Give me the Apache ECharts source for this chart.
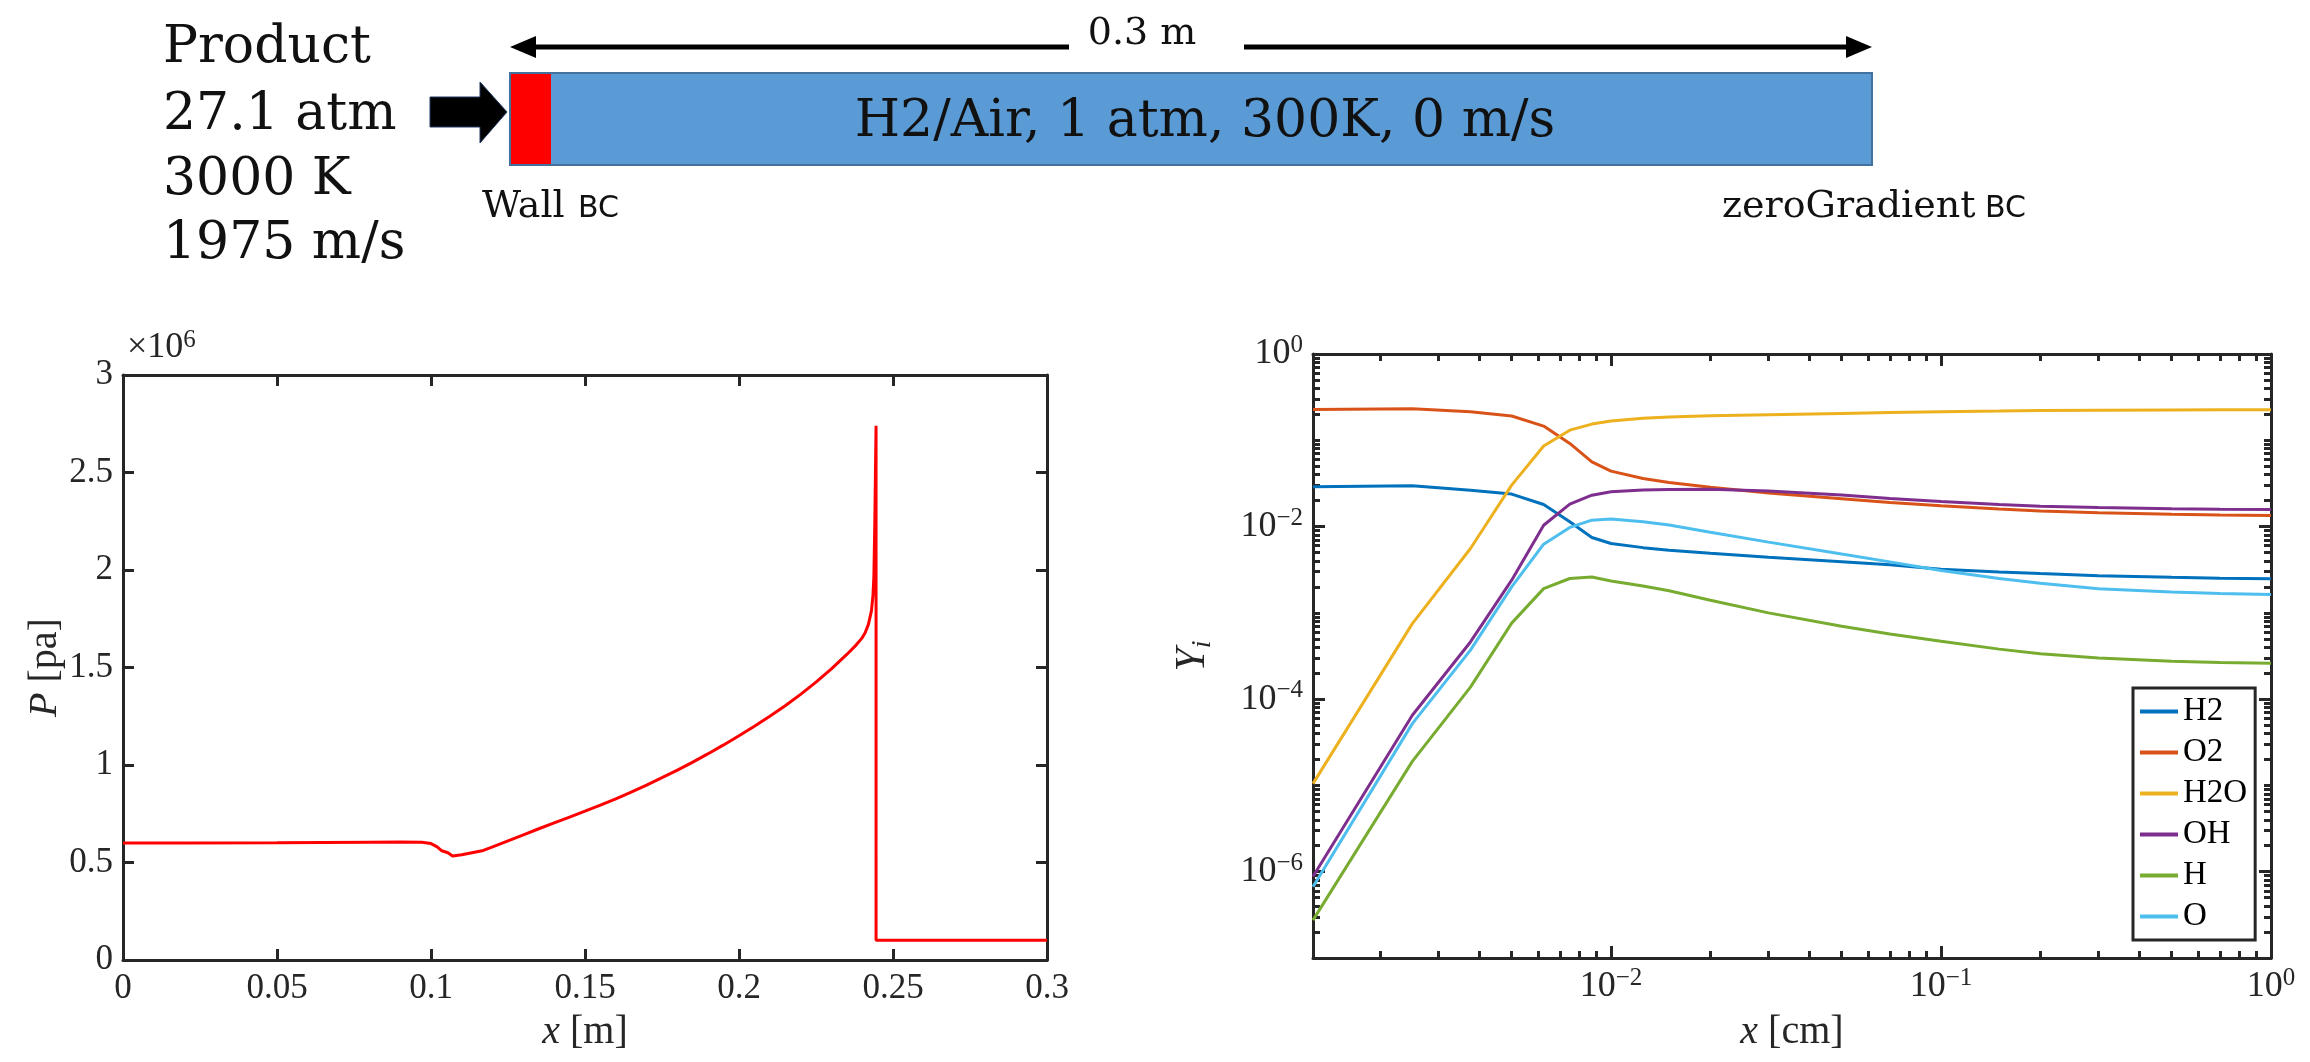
<!DOCTYPE html>
<html>
<head>
<meta charset="utf-8">
<script src="https://cdn.jsdelivr.net/npm/echarts@6/dist/echarts.min.js"></script>
<style>
html,body{margin:0;padding:0;background:#ffffff;}
#chart{width:2310px;height:1062px;}
</style>
</head>
<body>
<div id="chart"></div>
<script>
// ---------------- Left panel: pressure along the tube ----------------
const pressureX = [0, 0.02, 0.05, 0.08, 0.09, 0.097, 0.1, 0.102, 0.1035, 0.104, 0.1055, 0.106, 0.107, 0.11, 0.117,
  0.12, 0.125, 0.13, 0.135, 0.14, 0.145, 0.15, 0.155, 0.16, 0.165, 0.17, 0.175, 0.18, 0.185, 0.19, 0.195, 0.2, 0.205, 0.21, 0.215,
  0.22, 0.225, 0.23, 0.235, 0.238, 0.24, 0.241, 0.242, 0.243, 0.2435, 0.2438, 0.2441, 0.2443, 0.2445, 0.2445, 0.3];
const pressurePa = [6.0e5, 6.0e5, 6.01e5, 6.04e5, 6.05e5, 6.04e5, 5.97e5, 5.8e5, 5.6e5, 5.5e5, 5.5e5, 5.45e5, 5.33e5, 5.4e5, 5.62e5,
  5.8e5, 6.11e5, 6.42e5, 6.73e5, 7.03e5, 7.33e5, 7.63e5, 7.94e5, 8.26e5, 8.61e5, 8.97e5, 9.35e5, 9.74e5, 1.015e6, 1.058e6, 1.103e6, 1.15e6, 1.199e6, 1.25e6, 1.304e6,
  1.362e6, 1.425e6, 1.493e6, 1.567e6, 1.615e6, 1.652e6, 1.68e6, 1.72e6, 1.79e6, 1.87e6, 1.97e6, 2.25e6, 2.5e6, 2.74e6, 1.01325e5, 1.01325e5];

// ---------------- Right panel: species mass fractions ----------------
const speciesX = [0.00125, 0.0025, 0.00375, 0.005, 0.00625, 0.0075, 0.00875, 0.01, 0.0125, 0.015, 0.02, 0.03, 0.05, 0.07, 0.1, 0.15, 0.2, 0.3, 0.5, 0.7, 1.0];
const yH2  = [0.0289, 0.0297, 0.0264, 0.0238, 0.0180, 0.01135, 0.00747, 0.00636, 0.0057, 0.0053, 0.0049, 0.0044, 0.0039, 0.0036, 0.0032, 0.00298, 0.00285, 0.0027, 0.00258, 0.00252, 0.00248];
const yO2  = [0.228, 0.232, 0.214, 0.191, 0.146, 0.092, 0.0563, 0.0439, 0.036, 0.0325, 0.0285, 0.0245, 0.021, 0.019, 0.0174, 0.016, 0.0152, 0.0145, 0.0139, 0.0136, 0.0134];
const yH2O = [1.05e-5, 7.5e-4, 5.57e-3, 0.0302, 0.0857, 0.131, 0.154, 0.167, 0.180, 0.186, 0.192, 0.198, 0.205, 0.210, 0.214, 0.218, 0.221, 0.223, 0.225, 0.226, 0.226];
const yOH  = [8.8e-7, 6.5e-5, 4.6e-4, 2.39e-3, 0.01037, 0.0182, 0.0231, 0.0253, 0.0265, 0.0269, 0.027, 0.0258, 0.0232, 0.0212, 0.0195, 0.018, 0.0172, 0.0166, 0.0161, 0.0159, 0.0158];
const yH   = [2.75e-7, 1.9e-5, 1.38e-4, 7.6e-4, 1.91e-3, 2.5e-3, 2.6e-3, 2.34e-3, 2.05e-3, 1.8e-3, 1.4e-3, 1.0e-3, 7.0e-4, 5.7e-4, 4.7e-4, 3.8e-4, 3.35e-4, 3.0e-4, 2.75e-4, 2.65e-4, 2.6e-4];
const yO   = [6.7e-7, 5.2e-5, 3.7e-4, 2.0e-3, 6.25e-3, 9.77e-3, 0.01186, 0.0122, 0.0114, 0.0104, 0.0086, 0.0066, 0.0048, 0.0039, 0.0031, 0.0025, 0.0022, 0.0019, 0.00175, 0.00168, 0.00163];
const speciesNames = ['H2', 'O2', 'H2O', 'OH', 'H', 'O'];
const speciesColors = ['#0072BD', '#D95319', '#EDB120', '#7E2F8E', '#77AC30', '#4DBEEE'];
const speciesXMajor = [0.01, 0.1, 1];
const speciesYMajor = [1e-6, 1e-4, 1e-2, 1];

// ---------------- helpers ----------------
const SERIF = "'Liberation Serif', 'DejaVu Serif', serif";
const DIAG = "'DejaVu Serif', 'Liberation Serif', serif";
const SANS = "'DejaVu Sans', 'Liberation Sans', sans-serif";
const INK = '#262626';
const TICK_FS = 35;
const NAME_FS = 40;

function logMinor(lo, hi, majors) {
  const out = [];
  for (let e = -8; e <= 0; e++) {
    for (let m = 1; m <= 9; m++) {
      const v = +(m * Math.pow(10, e)).toPrecision(6);
      if (v >= lo * 0.999999 && v <= hi * 1.000001 && majors.indexOf(v) < 0) out.push(v);
    }
  }
  return out;
}
const xMinor = logMinor(0.00125, 1, speciesXMajor);
const yMinor = logMinor(1e-7, 1, speciesYMajor);

function zip(xs, ys) { return xs.map((x, i) => [x, ys[i]]); }

function powLabel(v) {
  const e = Math.round(Math.log10(v));
  return '{b|10}{s|' + (e < 0 ? '\u2212' + (-e) : String(e)) + '}';
}
const powRich = {
  b: { fontFamily: SERIF, fontSize: 36, color: INK, lineHeight: 42 },
  s: { fontFamily: SERIF, fontSize: 25, color: INK, lineHeight: 25, verticalAlign: 'top' }
};
const nameStyle = (extraRich) => ({ fontFamily: SERIF, fontSize: NAME_FS, color: INK,
  rich: Object.assign({ i: { fontFamily: SERIF, fontStyle: 'italic', fontSize: NAME_FS, color: INK } }, extraRich || {}) });

const lineAxis = { show: true, onZero: false, lineStyle: { color: INK, width: 3 } };
const noLine = { show: false, onZero: false };

function linAxisX(pos, labels) {
  return {
    type: 'value', gridIndex: 0, position: pos, min: 0, max: 0.3, interval: 0.05,
    axisLine: lineAxis, splitLine: { show: false },
    axisTick: { show: true, inside: true, length: 11, lineStyle: { color: INK, width: 3 } },
    axisLabel: labels ? { show: true, fontFamily: SERIF, fontSize: TICK_FS, color: INK, margin: 11 } : { show: false },
    name: labels ? '{i|x} [m]' : '', nameLocation: 'middle', nameGap: 52, nameTextStyle: nameStyle()
  };
}
function linAxisY(pos, labels) {
  return {
    type: 'value', gridIndex: 0, position: pos, min: 0, max: 3e6, interval: 5e5,
    axisLine: lineAxis, splitLine: { show: false },
    axisTick: { show: true, inside: true, length: 11, lineStyle: { color: INK, width: 3 } },
    axisLabel: labels ? { show: true, fontFamily: SERIF, fontSize: TICK_FS, color: INK, margin: 10, formatter: v => String(+(v / 1e6).toFixed(2)) } : { show: false },
    name: labels ? '{i|P} [pa]' : '', nameLocation: 'middle', nameGap: 58, nameTextStyle: nameStyle()
  };
}
function logAxisX(pos, major, withLabels) {
  return {
    type: 'log', gridIndex: 1, position: pos, min: 0.00125, max: 1, logBase: 10,
    axisLine: major ? lineAxis : noLine, splitLine: { show: false }, minorTick: { show: false },
    axisTick: { show: true, inside: true, length: major ? 12 : 7, customValues: major ? speciesXMajor : xMinor, lineStyle: { color: INK, width: 3 } },
    axisLabel: withLabels ? { show: true, customValues: speciesXMajor, formatter: powLabel, rich: powRich, margin: 8 } : { show: false },
    name: withLabels ? '{i|x} [cm]' : '', nameLocation: 'middle', nameGap: 54, nameTextStyle: nameStyle()
  };
}
function logAxisY(pos, major, withLabels) {
  return {
    type: 'log', gridIndex: 1, position: pos, min: 1e-7, max: 1, logBase: 10,
    axisLine: major ? lineAxis : noLine, splitLine: { show: false }, minorTick: { show: false },
    axisTick: { show: true, inside: true, length: major ? 12 : 7, customValues: major ? speciesYMajor : yMinor, lineStyle: { color: INK, width: 3 } },
    axisLabel: withLabels ? { show: true, customValues: speciesYMajor, formatter: powLabel, rich: powRich, margin: 10 } : { show: false },
    name: withLabels ? '{i|Y}{s|i}' : '', nameLocation: 'middle', nameGap: 96,
    nameTextStyle: nameStyle({
      i: { fontFamily: SERIF, fontStyle: 'italic', fontSize: 42, color: INK, lineHeight: 48 },
      s: { fontFamily: SERIF, fontStyle: 'italic', fontSize: 28, color: INK, lineHeight: 48, verticalAlign: 'bottom' } })
  };
}

const speciesData = [yH2, yO2, yH2O, yOH, yH, yO];

const diagText = (x, y, text, size, extra) => ({ type: 'text', x: x, y: y,
  style: Object.assign({ text: text, font: size + 'px ' + DIAG, fill: '#111', verticalAlign: 'middle' }, extra || {}) });

const option = {
  animation: false,
  backgroundColor: '#ffffff',
  grid: [
    { left: 123, top: 375, width: 924, height: 585 },
    { left: 1313, top: 354, width: 958, height: 604 }
  ],
  xAxis: [
    linAxisX('bottom', true),
    linAxisX('top', false),
    logAxisX('bottom', true, true),
    logAxisX('bottom', false, false),
    logAxisX('top', true, false),
    logAxisX('top', false, false)
  ],
  yAxis: [
    linAxisY('left', true),
    linAxisY('right', false),
    logAxisY('left', true, true),
    logAxisY('left', false, false),
    logAxisY('right', true, false),
    logAxisY('right', false, false)
  ],
  legend: {
    show: true, orient: 'vertical', left: 2133, top: 688,
    data: speciesNames, icon: 'rect', itemWidth: 38, itemHeight: 4, itemGap: 8,
    padding: [7, 8, 7, 7], borderColor: INK, borderWidth: 3, backgroundColor: '#ffffff',
    textStyle: { fontFamily: SERIF, fontSize: 33, color: '#000' }
  },
  series: [
    {
      type: 'line', name: 'P', xAxisIndex: 0, yAxisIndex: 0, data: zip(pressureX, pressurePa),
      showSymbol: false, symbol: 'none', lineStyle: { color: '#FF0000', width: 3 }, color: '#FF0000', silent: true
    }
  ].concat(speciesNames.map((n, i) => ({
    type: 'line', name: n, xAxisIndex: 2, yAxisIndex: 2, data: zip(speciesX, speciesData[i]),
    showSymbol: false, symbol: 'none', color: speciesColors[i], lineStyle: { color: speciesColors[i], width: 3 }
  }))),
  graphic: [
    // x10^6 multiplier
    { type: 'text', left: 127, top: 328, style: { text: '{a|\u00d710}{b|6}', rich: {
        a: { fontFamily: SERIF, fontSize: 36, fill: INK, lineHeight: 40 },
        b: { fontFamily: SERIF, fontSize: 25, fill: INK, lineHeight: 25, verticalAlign: 'top' } } } },
    // inflow conditions
    diagText(163, 48, 'Product', 52),
    diagText(163, 115, '27.1 atm', 52),
    diagText(163, 180, '3000 K', 52),
    diagText(163, 244, '1975 m/s', 52),
    // inflow arrow
    { type: 'polygon', shape: { points: [[430, 97], [480, 97], [480, 82], [507, 112], [480, 143], [480, 127], [430, 127]] },
      style: { fill: '#000', stroke: '#1F3864', lineWidth: 1 } },
    // tube
    { type: 'rect', shape: { x: 510, y: 73, width: 1362, height: 92 }, style: { fill: '#5B9BD5', stroke: '#41719C', lineWidth: 2 } },
    { type: 'rect', shape: { x: 511, y: 74, width: 40, height: 90 }, style: { fill: '#FF0000' } },
    diagText(1205, 122, 'H2/Air, 1 atm, 300K, 0 m/s', 52, { align: 'center' }),
    // length arrow
    { type: 'line', shape: { x1: 532, y1: 47, x2: 1069, y2: 47 }, style: { stroke: '#000', lineWidth: 5 } },
    { type: 'line', shape: { x1: 1244, y1: 47, x2: 1850, y2: 47 }, style: { stroke: '#000', lineWidth: 5 } },
    { type: 'polygon', shape: { points: [[510, 47], [536, 36], [536, 58]] }, style: { fill: '#000' } },
    { type: 'polygon', shape: { points: [[1872, 47], [1846, 36], [1846, 58]] }, style: { fill: '#000' } },
    diagText(1142, 34, '0.3 m', 38, { align: 'center' }),
    // boundary conditions
    diagText(482, 207, 'Wall', 38),
    { type: 'text', x: 578, y: 209, style: { text: 'BC', font: '30px ' + SANS, fill: '#111', verticalAlign: 'middle' } },
    diagText(1722, 207, 'zeroGradient', 38),
    { type: 'text', x: 1985, y: 209, style: { text: 'BC', font: '30px ' + SANS, fill: '#111', verticalAlign: 'middle' } }
  ]
};

const chart = echarts.init(document.getElementById('chart'), null, { renderer: 'canvas' });
chart.setOption(option);
</script>
</body>
</html>
